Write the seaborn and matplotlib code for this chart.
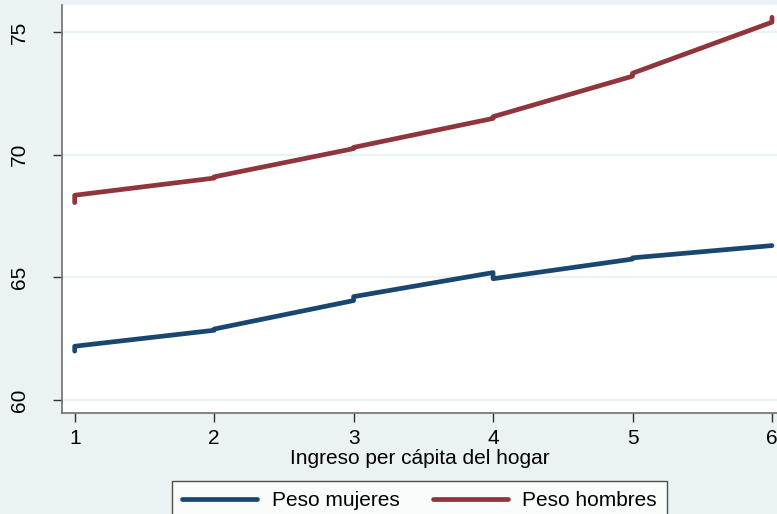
import numpy as np
import pandas as pd
import matplotlib
matplotlib.use('Agg')
import matplotlib.pyplot as plt
import seaborn as sns

# Values (each x has an entry and exit point)
ingreso = [1, 1, 2, 2, 3, 3, 4, 4, 5, 5, 6, 6]
peso_mujeres = [62.0, 62.2, 62.85, 62.9, 64.06, 64.22, 65.2, 64.95, 65.75, 65.8, 66.3, 66.3]
peso_hombres = [68.05, 68.35, 69.05, 69.1, 70.25, 70.3, 71.48, 71.55, 73.2, 73.32, 75.4, 75.6]
series_labels = ['Peso mujeres', 'Peso hombres']
x_ticks = [1, 2, 3, 4, 5, 6]
y_ticks = [60, 65, 70, 75]

BG = '#eaf2f3'
colors = {'Peso mujeres': '#1a476f', 'Peso hombres': '#90353b'}
FS = 15

df = pd.concat([
    pd.DataFrame({'ingreso': ingreso, 'peso': peso_mujeres, 'serie': series_labels[0]}),
    pd.DataFrame({'ingreso': ingreso, 'peso': peso_hombres, 'serie': series_labels[1]}),
], ignore_index=True)

sns.set_style('white')
plt.rcParams['font.family'] = ['Liberation Sans', 'DejaVu Sans']
plt.rcParams['text.color'] = 'black'
plt.rcParams['axes.labelcolor'] = 'black'
plt.rcParams['xtick.color'] = 'black'
plt.rcParams['ytick.color'] = 'black'

fig = plt.figure(figsize=(7.77, 5.14), dpi=100, facecolor=BG)
ax = fig.add_axes([62 / 777, 1 - 413 / 514, 1 - 62 / 777, 408 / 514])
ax.set_facecolor('white')

sns.lineplot(data=df, x='ingreso', y='peso', hue='serie', palette=colors,
             estimator=None, sort=False, linewidth=3.4, ax=ax, legend=False)
for ln in ax.lines:
    ln.set_solid_joinstyle('round')
    ln.set_solid_capstyle('round')

ax.set_xlim(0.909, 6.036)
ax.set_ylim(59.48, 76.1)
ax.set_xticks(x_ticks)
ax.set_yticks(y_ticks)
ax.yaxis.grid(True, color=BG, linewidth=1.6)
ax.set_axisbelow(True)

for side in ['top', 'right']:
    ax.spines[side].set_visible(False)
for side in ['left', 'bottom']:
    ax.spines[side].set_color('#6e6e6e')
    ax.spines[side].set_linewidth(1.2)

ax.tick_params(axis='y', direction='out', length=6.5, width=1, color='#333333',
               pad=17, labelsize=FS, left=True)
ax.tick_params(axis='x', direction='out', length=6.5, width=1, color='#333333',
               pad=5, labelsize=FS, bottom=True)
for lbl in ax.get_yticklabels():
    lbl.set_rotation(90)
    lbl.set_va('center')

ax.set_xlabel('Ingreso per cápita del hogar', fontsize=FS, labelpad=1)
ax.set_ylabel('')

handles = [plt.Line2D([], [], color=colors[s], linewidth=3.4) for s in series_labels]
leg = fig.legend(handles, series_labels, loc='upper center', ncol=2,
                 bbox_to_anchor=(0.54, 1 - 481 / 514), fontsize=FS,
                 frameon=True, fancybox=False, handlelength=3.6,
                 handletextpad=0.7, columnspacing=1.6, borderpad=0.5,
                 borderaxespad=0)
leg.get_frame().set_edgecolor('#222222')
leg.get_frame().set_linewidth(1)
leg.get_frame().set_facecolor('white')

fig.savefig('out.png', dpi=100, facecolor=BG)
